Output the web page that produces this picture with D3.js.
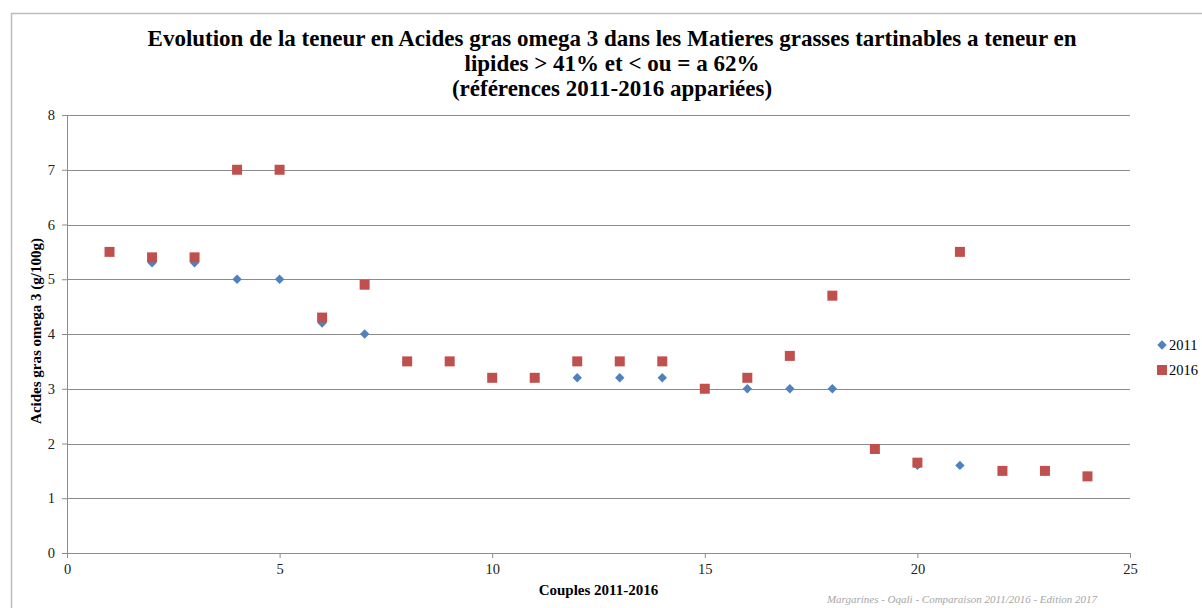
<!DOCTYPE html>
<html>
<head>
<meta charset="utf-8">
<script src="https://cdn.jsdelivr.net/npm/d3@7"></script>
<style>
    body { margin: 0; background: #fff; }
    text { font-family: "Liberation Serif", serif; }
</style>
</head>
<body>
<div id="chart"></div>
<script>
//Données
const couples = [1,2,3,4,5,6,7,8,9,10,11,12,13,14,15,16,17,18,19,20,21,22,23,24];
const serie2011 = [5.5,5.3,5.3,5.0,5.0,4.2,4.0,3.5,3.5,3.2,3.2,3.2,3.2,3.2,3.0,3.0,3.0,3.0,1.9,1.6,1.6,1.5,1.5,1.4];
const serie2016 = [5.5,5.4,5.4,7.0,7.0,4.3,4.9,3.5,3.5,3.2,3.2,3.5,3.5,3.5,3.0,3.2,3.6,4.7,1.9,1.65,5.5,1.5,1.5,1.4];
const xTicks = [0,5,10,15,20,25];
const yTicks = [0,1,2,3,4,5,6,7,8];
const titre = ['Evolution de la teneur en Acides gras omega 3 dans les Matieres grasses tartinables a teneur en',
    'lipides > 41% et < ou = a 62%',
    '(références 2011-2016 appariées)'];

//Colores
const COLOR_2011 = '#4F81BD',
COLOR_2016 = '#C0504D';

let W = 1202, H = 608;
let margin = {top: 115, right: 72, bottom: 55, left: 67},
    width = W - margin.left - margin.right,
    height = H - margin.top - margin.bottom;

let root = d3.select('#chart').append('svg')
    .attr('width', W)
    .attr('height', H);

//Cadre
root.append('path')
    .attr('d', 'M11.5,' + H + ' V13.5 H' + W)
    .attr('fill', 'none')
    .attr('stroke', '#bdbdbd')
    .attr('stroke-width', 1.5);

//Titre
let title = root.append('text')
    .attr('text-anchor', 'middle')
    .style('font-weight', 'bold')
    .style('font-size', '23px')
    .attr('fill', '#000');
titre.forEach(function(t, i) {
    title.append('tspan')
        .attr('x', 612)
        .attr('y', 46 + i * 25)
        .text(t);
});

let svg = root.append('g')
    .attr('transform', 'translate(' + margin.left + ',' + margin.top + ')');

let x = d3.scaleLinear().domain([0,25]).range([0,width]);
let y = d3.scaleLinear().domain([0,8]).range([height,0]);

//Grille
svg.append('g')
    .selectAll('line')
    .data(yTicks.filter(function(d) { return d > 0; }))
    .enter()
    .append('line')
    .attr('x1', 0)
    .attr('x2', width)
    .attr('y1', function(d) { return Math.round(y(d)) + 0.5; })
    .attr('y2', function(d) { return Math.round(y(d)) + 0.5; })
    .attr('stroke', '#8c8c8c')
    .attr('stroke-width', 1);

let yAxis = function(g) {
    g.call(d3.axisLeft(y).tickValues(yTicks).tickSize(5).tickPadding(7));
    g.call(function(g) { g.selectAll('.tick line').attr('stroke', '#8c8c8c'); });
    g.call(function(g) { g.select('.domain').attr('stroke', '#8c8c8c'); });
    g.call(function(g) { g.selectAll('.tick text').style('font-size', '14.5px').style('font-family', '"Liberation Serif", serif').attr('fill', '#222'); });
};

let xAxis = function(g) {
    g.call(d3.axisBottom(x).tickValues(xTicks).tickSize(5).tickPadding(6));
    g.call(function(g) { g.selectAll('.tick line').attr('stroke', '#8c8c8c'); });
    g.call(function(g) { g.select('.domain').attr('stroke', '#8c8c8c'); });
    g.call(function(g) { g.selectAll('.tick text').style('font-size', '14.5px').style('font-family', '"Liberation Serif", serif').attr('fill', '#222'); });
};

svg.append('g').attr('transform', 'translate(0,' + height + ')').call(xAxis);
svg.append('g').call(yAxis);

//Titres des axes
svg.append('text')
    .attr('x', width / 2)
    .attr('y', height + 42)
    .attr('text-anchor', 'middle')
    .style('font-weight', 'bold')
    .style('font-size', '15px')
    .text('Couples 2011-2016');

svg.append('text')
    .attr('transform', 'translate(-26,' + (height / 2 - 3) + ') rotate(-90)')
    .attr('text-anchor', 'middle')
    .style('font-weight', 'bold')
    .style('font-size', '15px')
    .text('Acides gras omega 3 (g/100g)');

//Points
let diamond = d3.symbol().type(d3.symbolSquare).size(44);
let square = d3.symbol().type(d3.symbolSquare).size(100);

svg.append('g')
    .selectAll('path')
    .data(couples)
    .enter()
    .append('path')
    .attr('d', diamond)
    .attr('transform', function(d, i) { return 'translate(' + x(d) + ',' + y(serie2011[i]) + ') rotate(45)'; })
    .attr('fill', COLOR_2011);

svg.append('g')
    .selectAll('path')
    .data(couples)
    .enter()
    .append('path')
    .attr('d', square)
    .attr('transform', function(d, i) { return 'translate(' + x(d) + ',' + y(serie2016[i]) + ')'; })
    .attr('fill', COLOR_2016);

//Légende
let legend = root.append('g').attr('transform', 'translate(1162,345)');
legend.append('path')
    .attr('d', d3.symbol().type(d3.symbolSquare).size(44))
    .attr('transform', 'rotate(45)')
    .attr('fill', COLOR_2011);
legend.append('text')
    .attr('x', 7).attr('y', 5)
    .style('font-size', '14.5px')
    .text('2011');
legend.append('path')
    .attr('d', square)
    .attr('transform', 'translate(0,25)')
    .attr('fill', COLOR_2016);
legend.append('text')
    .attr('x', 7).attr('y', 30)
    .style('font-size', '14.5px')
    .text('2016');

//Source
root.append('text')
    .attr('x', 1097)
    .attr('y', 603)
    .attr('text-anchor', 'end')
    .style('font-style', 'italic')
    .style('font-size', '11px')
    .attr('fill', '#a6a6a6')
    .text('Margarines - Oqali - Comparaison 2011/2016 - Edition 2017');
</script>
</body>
</html>
